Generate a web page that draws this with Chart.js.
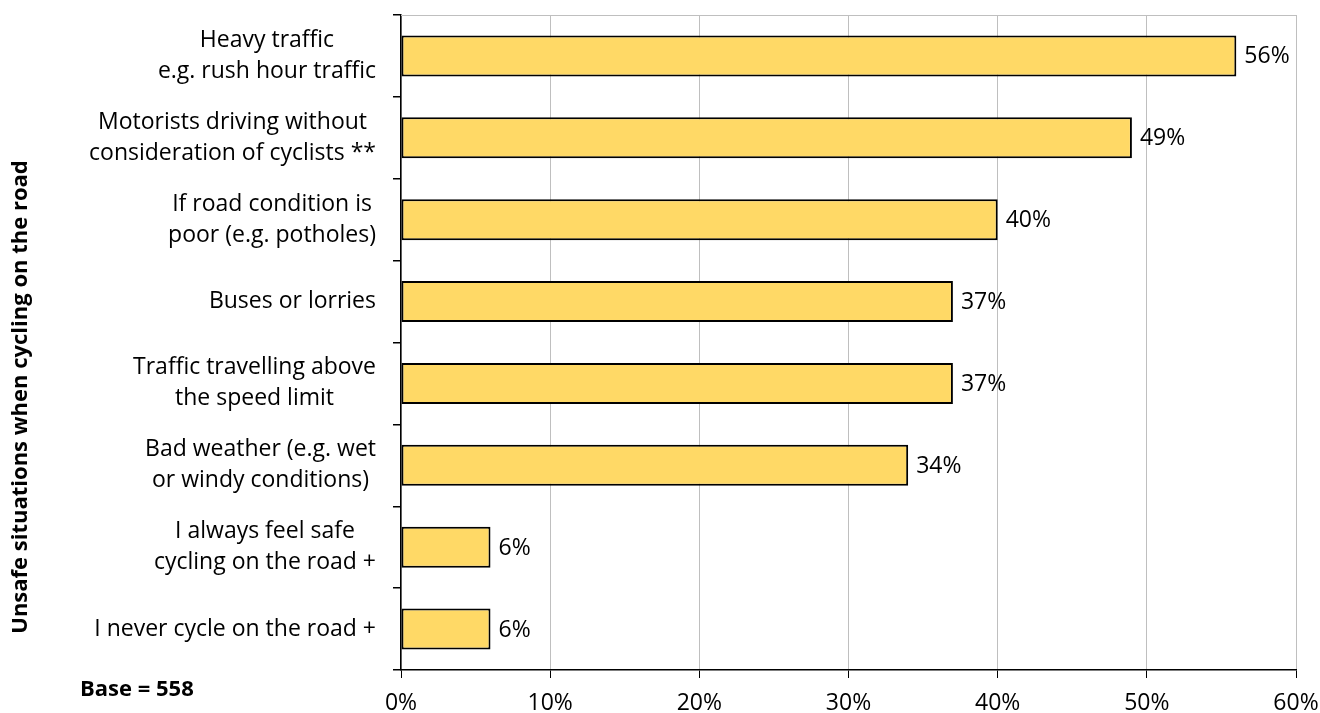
<!DOCTYPE html>
<html>
<head>
<meta charset="utf-8">
<script src="https://cdn.jsdelivr.net/npm/chart.js@4"></script>
<style>
  html, body { margin: 0; padding: 0; background: #fff; }
  #wrap { width: 1320px; height: 713px; position: relative; }
</style>
</head>
<body>
<div id="wrap"><canvas id="c" width="1320" height="713"></canvas></div>
<script>
// Unsafe situations when cycling on the road (share of respondents)
const categories = [
  ['Heavy traffic', 'e.g. rush hour traffic'],
  ['Motorists driving without', 'consideration of cyclists **'],
  ['If road condition is', 'poor (e.g. potholes)'],
  ['Buses or lorries'],
  ['Traffic travelling above', 'the speed limit'],
  ['Bad weather (e.g. wet', 'or windy conditions)'],
  ['I always feel safe', 'cycling on the road +'],
  ['I never cycle on the road +']
];
const values = [56, 49, 40, 37, 37, 34, 6, 6];
const xTicks = [0, 10, 20, 30, 40, 50, 60];
const axisTitle = 'Unsafe situations when cycling on the road';
const baseNote = 'Base = 558';

const FONT = '"Open Sans", sans-serif';
const LABEL_SIZE = 23;

// Category labels: each block right-aligned to the axis, lines centred within the block
const categoryLabels = {
  id: 'categoryLabels',
  afterDraw(chart) {
    const ctx = chart.ctx;
    const y = chart.scales.y;
    const right = chart.chartArea.left - 25;
    const lineH = 31;
    ctx.save();
    ctx.font = LABEL_SIZE + 'px ' + FONT;
    ctx.fillStyle = '#000';
    ctx.textAlign = 'center';
    ctx.textBaseline = 'middle';
    categories.forEach((lines, i) => {
      const cy = y.getPixelForValue(i);
      const w = Math.max(...lines.map(l => ctx.measureText(l).width));
      const cx = right - w / 2;
      const y0 = cy - (lines.length - 1) * lineH / 2;
      lines.forEach((l, k) => ctx.fillText(l, cx, y0 + k * lineH));
    });
    ctx.restore();
  }
};

// Value labels at the end of each bar
const valueLabels = {
  id: 'valueLabels',
  afterDatasetsDraw(chart) {
    const ctx = chart.ctx;
    const meta = chart.getDatasetMeta(0);
    ctx.save();
    ctx.font = LABEL_SIZE + 'px ' + FONT;
    ctx.fillStyle = '#000';
    ctx.textAlign = 'left';
    ctx.textBaseline = 'middle';
    meta.data.forEach((bar, i) => {
      ctx.fillText(values[i] + '%', bar.x + 8, bar.y + 1);
    });
    ctx.restore();
  }
};

// Top frame line, rotated axis title and base note
const extras = {
  id: 'extras',
  beforeDatasetsDraw(chart) {
    const { ctx, chartArea: a } = chart;
    ctx.save();
    ctx.strokeStyle = '#BFBFBF';
    ctx.lineWidth = 1;
    ctx.beginPath();
    ctx.moveTo(a.left, a.top + 0.5);
    ctx.lineTo(a.right, a.top + 0.5);
    ctx.stroke();
    ctx.restore();
  },
  afterDraw(chart) {
    const ctx = chart.ctx;
    ctx.save();
    ctx.fillStyle = '#000';
    ctx.font = 'bold 22px ' + FONT;
    ctx.textAlign = 'center';
    ctx.textBaseline = 'middle';
    ctx.translate(21, 397);
    ctx.rotate(-Math.PI / 2);
    ctx.fillText(axisTitle, 0, 0);
    ctx.restore();
    ctx.save();
    ctx.fillStyle = '#000';
    ctx.font = 'bold 22px ' + FONT;
    ctx.textAlign = 'left';
    ctx.textBaseline = 'middle';
    ctx.fillText(baseNote, 80, 690);
    ctx.restore();
  }
};

new Chart(document.getElementById('c'), {
  type: 'bar',
  data: {
    labels: categories,
    datasets: [{
      data: values,
      backgroundColor: '#FFD966',
      borderColor: '#000',
      borderWidth: 2,
      borderSkipped: false,
      barPercentage: 0.5,
      categoryPercentage: 1.0
    }]
  },
  options: {
    indexAxis: 'y',
    responsive: false,
    animation: false,
    events: [],
    layout: { padding: { left: 0, right: 24, top: 15, bottom: 0 } },
    plugins: { legend: { display: false }, tooltip: { enabled: false } },
    scales: {
      x: {
        min: 0, max: 60,
        afterBuildTicks(scale) { scale.ticks = xTicks.map(v => ({ value: v })); },
        afterFit(scale) {
          scale.height = 43;
          scale.paddingLeft = 0;
          scale.paddingRight = 0;
        },
        ticks: {
          callback: v => v + '%',
          font: { family: FONT, size: LABEL_SIZE },
          color: '#000',
          padding: 12,
          maxRotation: 0
        },
        grid: { color: '#BFBFBF', lineWidth: 1, tickLength: 8, tickColor: '#000' },
        border: { color: '#000', width: 1.5 }
      },
      y: {
        afterFit(scale) { scale.width = 401; },
        ticks: { display: false },
        grid: { offset: true, drawOnChartArea: false, tickLength: 8, color: '#000', lineWidth: 1.5 },
        border: { color: '#000', width: 1.5 }
      }
    }
  },
  plugins: [extras, valueLabels, categoryLabels]
});
</script>
</body>
</html>
